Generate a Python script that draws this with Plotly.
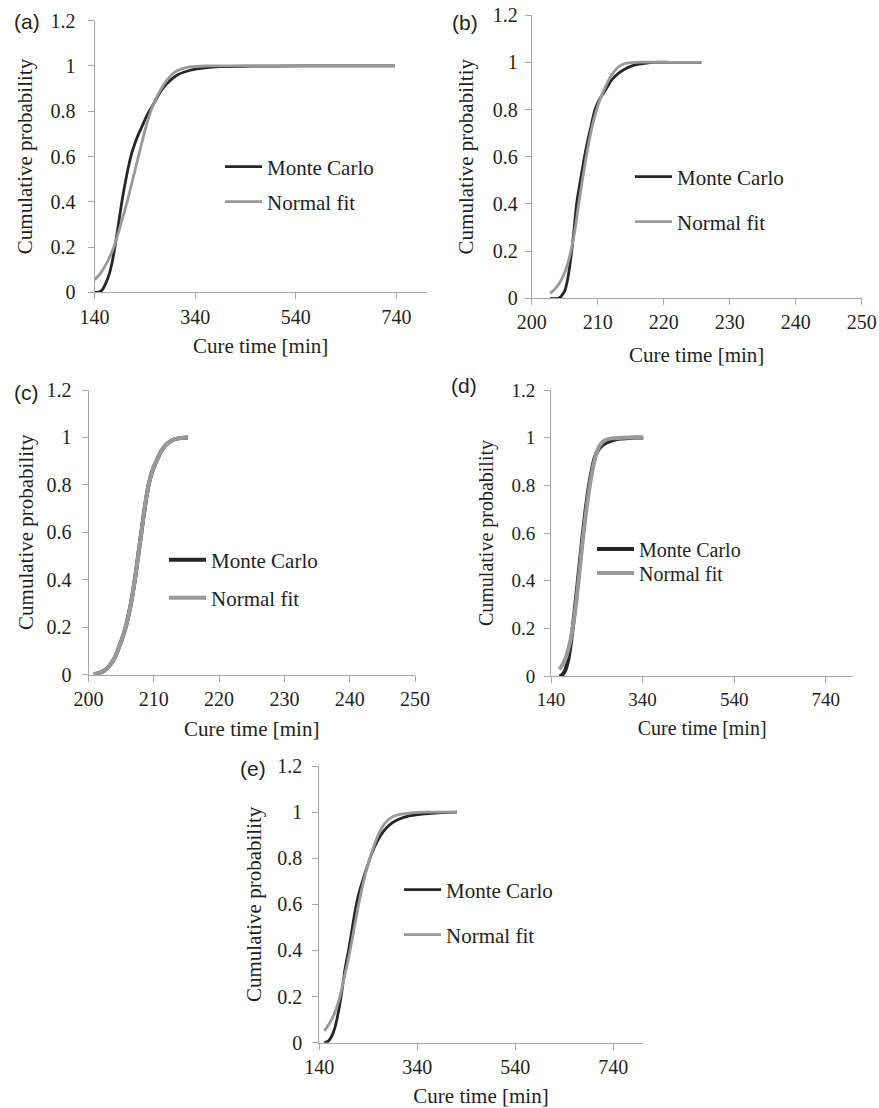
import plotly.graph_objects as go

W, H = 879, 1108

# ---------------- data ----------------
# (a)
a_mc_x = [140, 148.6, 155.2, 161.8, 168.4, 175.0, 181.6, 188.2, 194.8, 201.4, 208.0, 214.6, 224.5,
          234.4, 244.3, 257.5, 270.7, 283.9, 303.7, 330.1, 363.1, 389.5, 450, 550, 650, 737]
a_mc_y = [0, 0.001, 0.010, 0.037, 0.074, 0.133, 0.214, 0.310, 0.406, 0.487, 0.560, 0.619, 0.683,
          0.733, 0.782, 0.833, 0.885, 0.922, 0.959, 0.981, 0.993, 0.997, 0.999, 1.0, 1.0, 1.0]
a_nf_x = [140, 151.9, 165.1, 178.3, 191.5, 204.7, 217.9, 231.1, 244.3, 257.5, 270.7, 283.9,
          297.1, 310.3, 330.1, 363.1, 450, 550, 650, 737]
a_nf_y = [0.055, 0.084, 0.133, 0.199, 0.295, 0.398, 0.516, 0.634, 0.748, 0.833, 0.892, 0.937,
          0.969, 0.985, 0.996, 1.0, 1.0, 1.0, 1.0, 1.0]

# (b)
b_mc_x = [202.8, 204.04, 204.55, 205.05, 205.56, 206.06, 206.45, 206.8, 207.2, 207.6, 208.0, 208.5,
          209.0, 209.6, 210.35, 211.11, 212.12, 213.13, 214.14, 215.66, 217.17, 218.69, 221.0, 225.7]
b_mc_y = [0, 0, 0.011, 0.035, 0.099, 0.2, 0.3, 0.4, 0.47, 0.535, 0.6, 0.67,
          0.73, 0.8, 0.847, 0.879, 0.925, 0.953, 0.972, 0.989, 0.996, 1.0, 1.0, 1.0]
b_nf_x = [202.78, 203.54, 204.29, 205.05, 205.81, 206.5, 207.07, 207.68, 208.33, 209.09, 209.85,
          210.51, 211.11, 211.87, 212.63, 213.38, 214.14, 215.66, 220.0, 225.7]
b_nf_y = [0.021, 0.040, 0.068, 0.113, 0.184, 0.28, 0.39, 0.50, 0.61, 0.72, 0.80,
          0.855, 0.893, 0.936, 0.966, 0.985, 0.995, 1.0, 1.0, 1.0]

# (c)
c_mc_x = [200.8, 202, 203, 204, 205, 205.7, 206.5, 207.1, 207.6, 208.1, 208.6, 209.2, 209.8,
          210.4, 211.2, 212, 213, 214, 215.2]
c_mc_y = [0.0, 0.01, 0.03, 0.07, 0.14, 0.2, 0.3, 0.4, 0.5, 0.6, 0.7, 0.8, 0.86,
          0.9, 0.945, 0.972, 0.99, 0.997, 1.0]
c_nf_x = [200.8, 202, 203, 204, 205, 205.7, 206.5, 207.1, 207.6, 208.1, 208.6, 209.2, 209.8,
          210.4, 211.2, 212, 213, 214, 215.2]
c_nf_y = [0.0, 0.01, 0.03, 0.07, 0.14, 0.2, 0.3, 0.4, 0.5, 0.6, 0.7, 0.8, 0.86,
          0.9, 0.945, 0.972, 0.99, 0.997, 1.0]

# (d)
d_mc_x = [158.2, 163.3, 170.5, 177.8, 185.1, 192.3, 199.6, 206.9, 214.2, 221.4, 228.7, 236.0,
          243.2, 254.1, 268.7, 290.5, 319.6, 341.4]
d_mc_y = [0, 0.003, 0.022, 0.070, 0.165, 0.284, 0.416, 0.549, 0.675, 0.779, 0.860, 0.919,
          0.950, 0.972, 0.986, 0.996, 1.0, 1.0]
d_nf_x = [158.2, 166.9, 174.2, 181.4, 188.7, 196.0, 203.3, 210.5, 217.8, 225.1, 232.3, 239.6,
          246.9, 257.8, 272.3, 297.8, 341.4]
d_nf_y = [0.028, 0.053, 0.088, 0.140, 0.218, 0.325, 0.458, 0.591, 0.707, 0.804, 0.880, 0.936,
          0.969, 0.989, 0.997, 1.0, 1.0]

# (e)
e_mc_x = [150.3, 158.5, 165.3, 172.2, 179.0, 185.9, 192.7, 199.6, 206.4, 213.3, 220.1, 229.1,
          238.0, 247.5, 258.5, 270.2, 283.9, 301.0, 321.5, 348.9, 376.3, 420.9]
e_mc_y = [0, 0.007, 0.028, 0.068, 0.134, 0.221, 0.322, 0.399, 0.486, 0.573, 0.642, 0.707,
          0.765, 0.823, 0.874, 0.914, 0.946, 0.968, 0.983, 0.991, 0.996, 1.0]
e_nf_x = [150.3, 160.6, 170.8, 181.1, 191.4, 201.7, 211.9, 222.2, 232.5, 242.8, 253.0, 263.3,
          273.6, 287.3, 304.4, 328.4, 355.8, 420.9]
e_nf_y = [0.051, 0.083, 0.126, 0.192, 0.288, 0.388, 0.504, 0.620, 0.718, 0.797, 0.862, 0.914,
          0.951, 0.977, 0.990, 0.997, 1.0, 1.0]

y_ticks = [0, 0.2, 0.4, 0.6, 0.8, 1.0, 1.2]
y_ticktext = ["0", "0.2", "0.4", "0.6", "0.8", "1", "1.2"]
x_ticks_wide = [140, 340, 540, 740]
x_ticks_narrow = [200, 210, 220, 230, 240, 250]
panel_labels = ["(a)", "(b)", "(c)", "(d)", "(e)"]
series_names = ["Monte Carlo", "Normal fit"]
y_titles = ["Cumulative probability", "Cumulative probabiltiy", "Cumulative probability",
            "Cumulative probability", "Cumulative probability"]
x_title = "Cure time [min]"

# ---------------- layout geometry (pixels) ----------------
def px(x):
    return x / W

def py(y):
    return 1 - y / H

LEG_ITEM_W = 37

# leg: (text start x, MC centre y, NF centre y)
panels = [
    dict(x0=94.5, x1=426.7, yt=20.7, yb=292.3, xr=[140, 800], xt=x_ticks_wide,
         mc=(a_mc_x, a_mc_y), nf=(a_nf_x, a_nf_y), lw=2.8, leg=(268, 167, 202), fs=20,
         lab=(27, 22), ys=8, yts=12, xs=1, xts=11),
    dict(x0=531.7, x1=861.7, yt=15.1, yb=298.3, xr=[200, 250], xt=x_ticks_narrow,
         mc=(b_mc_x, b_mc_y), nf=(b_nf_x, b_nf_y), lw=2.8, leg=(678, 177, 222), fs=20,
         lab=(464.5, 23), ys=3, yts=13, xs=0, xts=15),
    dict(x0=88.5, x1=415.0, yt=390.0, yb=674.5, xr=[200, 250], xt=x_ticks_narrow,
         mc=(c_mc_x, c_mc_y), nf=(c_nf_x, c_nf_y), lw=4, leg=(212, 560, 598), fs=20,
         lab=(26, 393), ys=6, yts=7, xs=0, xts=12),
    dict(x0=551.0, x1=853.3, yt=390.0, yb=676.0, xr=[140, 800], xt=x_ticks_wide,
         mc=(d_mc_x, d_mc_y), nf=(d_nf_x, d_nf_y), lw=4, leg=(640, 549, 573), fs=19,
         lab=(464, 385), ys=5, yts=12, xs=0, xts=12),
    dict(x0=319.3, x1=642.7, yt=766.0, yb=1042.7, xr=[140, 800], xt=x_ticks_wide,
         mc=(e_mc_x, e_mc_y), nf=(e_nf_x, e_nf_y), lw=2.8, leg=(447, 890, 935), fs=20,
         lab=(253, 768), ys=6, yts=9, xs=0, xts=12),
]

SERIF = "Liberation Serif, Times New Roman, Times, serif"
SANS = "Liberation Sans, Arial, sans-serif"
AXIS_COL = "#a6a6a6"
TXT_COL = "#231f20"
MC_COL = "#262626"
NF_COL = "#999999"

fig = go.Figure()
layout = dict(width=W, height=H, margin=dict(l=0, r=0, t=0, b=0, pad=0, autoexpand=False),
              autosize=False, paper_bgcolor="white", plot_bgcolor="white", showlegend=True,
              annotations=[])

for i, p in enumerate(panels):
    n = "" if i == 0 else str(i + 1)
    xa, ya = "x" + n, "y" + n
    for j, (name, (xs, ys), col) in enumerate(
            [(series_names[0], p["mc"], MC_COL), (series_names[1], p["nf"], NF_COL)]):
        k = 2 * i + j + 1
        leg = "legend" if k == 1 else f"legend{k}"
        fig.add_trace(go.Scatter(x=xs, y=ys, mode="lines", name=name,
                                 line=dict(color=col, width=p["lw"], shape="spline", smoothing=0.8),
                                 xaxis=xa, yaxis=ya, legend=leg, hoverinfo="skip"))
        layout[leg] = dict(x=px(p["leg"][0] - 41 - (LEG_ITEM_W - 30)), y=py(p["leg"][1 + j]),
                           xanchor="left", yanchor="middle", itemwidth=LEG_ITEM_W,
                           bgcolor="rgba(0,0,0,0)", borderwidth=0,
                           font=dict(family=SERIF, size=p["fs"] + 1, color=TXT_COL))
    tick_font = dict(family=SERIF, size=p["fs"], color=TXT_COL)
    title_font = dict(family=SERIF, size=p["fs"] + 1, color=TXT_COL)
    layout["xaxis" + n] = dict(domain=[px(p["x0"]), px(p["x1"])], anchor=ya, range=p["xr"],
                               tickvals=p["xt"], ticktext=[str(v) for v in p["xt"]],
                               showline=True, linecolor=AXIS_COL, linewidth=1,
                               ticks="outside", ticklen=6, tickcolor=AXIS_COL, tickwidth=1,
                               showgrid=False, zeroline=False, tickfont=tick_font,
                               ticklabelstandoff=p["xs"], automargin=False,
                               title=dict(text=x_title, font=title_font, standoff=p["xts"]))
    layout["yaxis" + n] = dict(domain=[py(p["yb"]), py(p["yt"])], anchor=xa, range=[0, 1.2],
                               tickvals=y_ticks, ticktext=y_ticktext,
                               showline=True, linecolor=AXIS_COL, linewidth=1,
                               ticks="outside", ticklen=6, tickcolor=AXIS_COL, tickwidth=1,
                               showgrid=False, zeroline=False, tickfont=tick_font,
                               ticklabelstandoff=p["ys"], automargin=False,
                               title=dict(text=y_titles[i], font=title_font, standoff=p["yts"]))
    layout["annotations"].append(dict(text=panel_labels[i], x=px(p["lab"][0]), y=py(p["lab"][1]),
                                      xref="paper", yref="paper", xanchor="center", yanchor="middle",
                                      showarrow=False,
                                      font=dict(family=SANS, size=21, color=TXT_COL)))

fig.update_layout(**layout)
fig.write_html("out.html")
